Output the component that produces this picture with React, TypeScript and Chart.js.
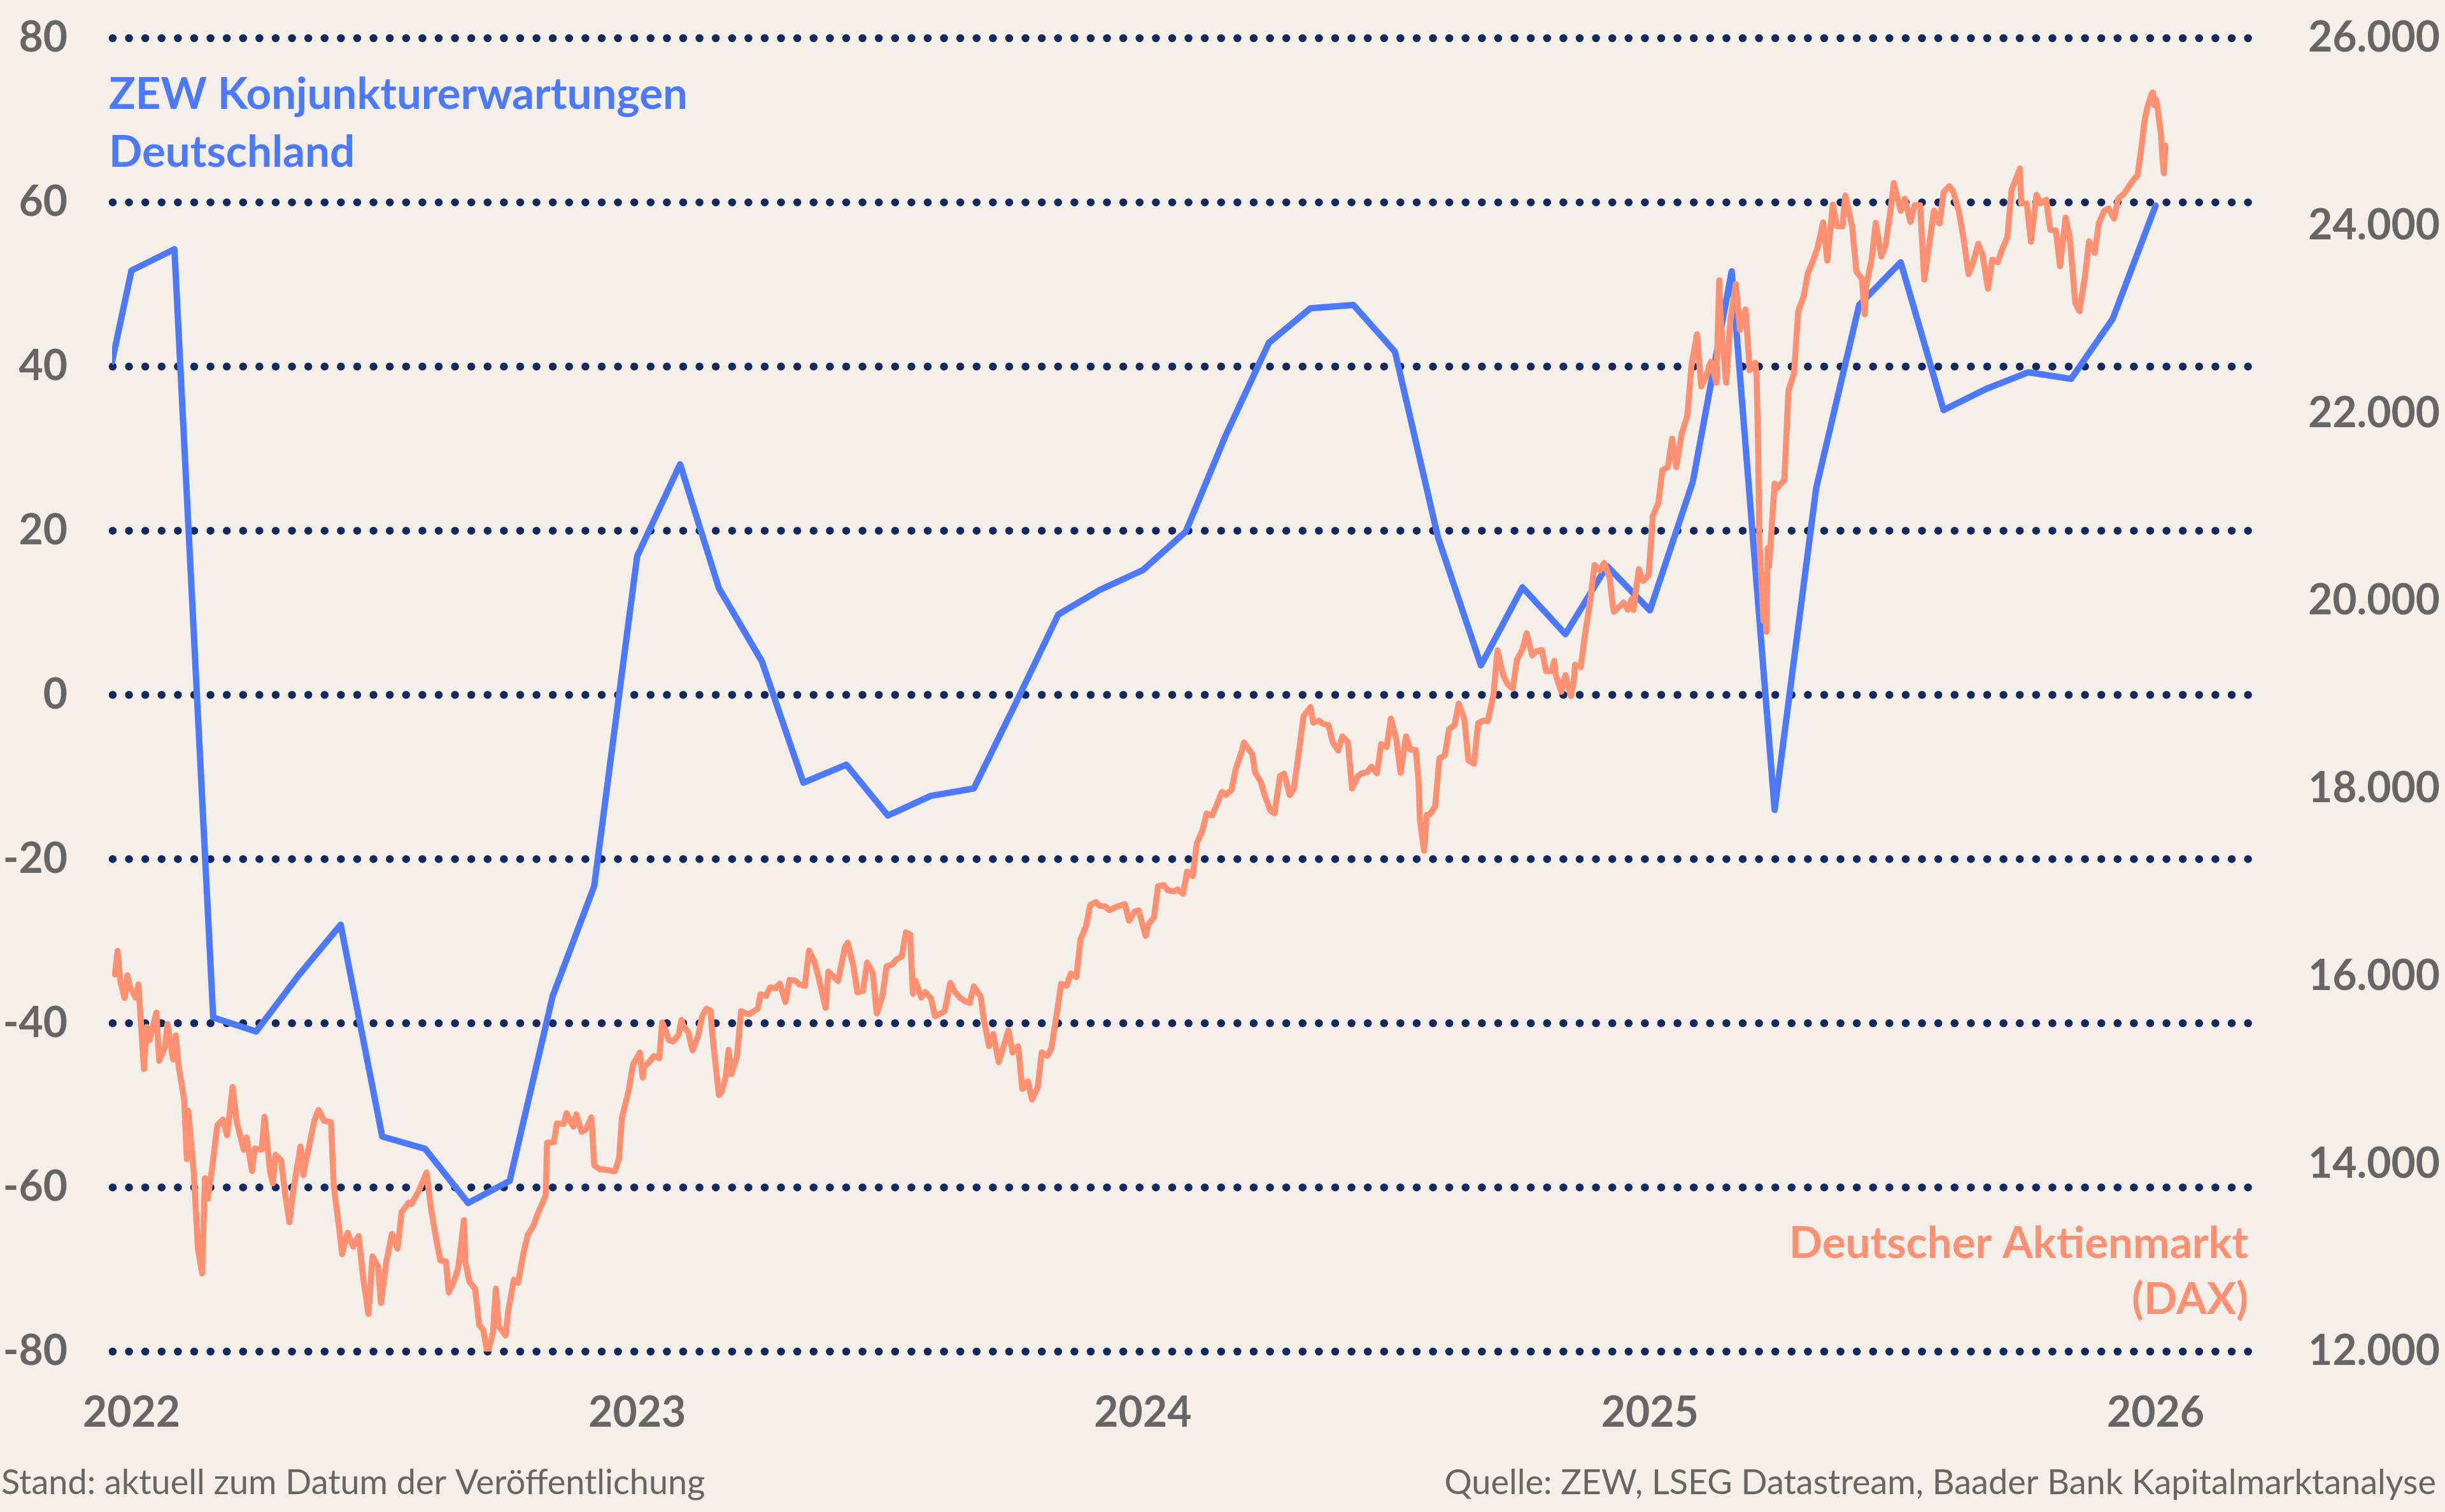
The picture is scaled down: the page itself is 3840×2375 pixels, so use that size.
import React, { useEffect, useRef } from "react";
import { Chart, registerables } from "chart.js";

Chart.register(...registerables);

// ---------- DATA ----------
// ZEW Konjunkturerwartungen Deutschland (Saldo), monthly, plotted mid-month
const ZEW_START = { date: "2022-01-01", value: 40.6 };
const ZEW_MONTHS = [
  "2022-01", "2022-02", "2022-03", "2022-04", "2022-05", "2022-06",
  "2022-07", "2022-08", "2022-09", "2022-10", "2022-11", "2022-12",
  "2023-01", "2023-02", "2023-03", "2023-04", "2023-05", "2023-06",
  "2023-07", "2023-08", "2023-09", "2023-10", "2023-11", "2023-12",
  "2024-01", "2024-02", "2024-03", "2024-04", "2024-05", "2024-06",
  "2024-07", "2024-08", "2024-09", "2024-10", "2024-11", "2024-12",
  "2025-01", "2025-02", "2025-03", "2025-04", "2025-05", "2025-06",
  "2025-07", "2025-08", "2025-09", "2025-10", "2025-11", "2025-12",
  "2026-01",
];
const ZEW_VALUES = [
  51.7, 54.3, -39.3, -41.0, -34.3, -28.0, -53.8, -55.3, -61.9, -59.2, -36.7, -23.3,
  16.9, 28.1, 13.0, 4.1, -10.7, -8.5, -14.7, -12.3, -11.4, -1.1, 9.8, 12.8,
  15.2, 19.9, 31.7, 42.9, 47.1, 47.5, 41.8, 19.2, 3.6, 13.1, 7.4, 15.7,
  10.3, 26.0, 51.6, -14.0, 25.2, 47.5, 52.7, 34.7, 37.3, 39.3, 38.5, 45.8,
  59.6,
];

// DAX (Punkte)
const DAX_2022: [string, number][] = [
  ["2022-01-03", 16020], ["2022-01-05", 16271], ["2022-01-07", 15948], ["2022-01-10", 15768], ["2022-01-12", 16010],
  ["2022-01-14", 15883], ["2022-01-18", 15773], ["2022-01-20", 15912], ["2022-01-24", 15011], ["2022-01-26", 15460],
  ["2022-01-28", 15318], ["2022-02-02", 15613], ["2022-02-04", 15100], ["2022-02-08", 15242], ["2022-02-10", 15490],
  ["2022-02-14", 15114], ["2022-02-16", 15370], ["2022-02-18", 15042], ["2022-02-22", 14693], ["2022-02-24", 14052],
  ["2022-02-25", 14567], ["2022-03-01", 13905], ["2022-03-04", 13094], ["2022-03-07", 12832], ["2022-03-09", 13847],
  ["2022-03-11", 13628], ["2022-03-14", 13929], ["2022-03-18", 14413], ["2022-03-22", 14473], ["2022-03-25", 14306],
  ["2022-03-29", 14820], ["2022-04-01", 14446], ["2022-04-06", 14152], ["2022-04-08", 14283], ["2022-04-12", 13925],
  ["2022-04-14", 14164], ["2022-04-19", 14153], ["2022-04-21", 14502], ["2022-04-25", 13924], ["2022-04-27", 13794],
  ["2022-04-29", 14098], ["2022-05-03", 14039], ["2022-05-06", 13674], ["2022-05-09", 13381], ["2022-05-12", 13739],
  ["2022-05-17", 14186], ["2022-05-19", 13882], ["2022-05-23", 14175], ["2022-05-27", 14462], ["2022-05-30", 14576],
  ["2022-06-03", 14460], ["2022-06-08", 14446], ["2022-06-10", 13762], ["2022-06-14", 13304], ["2022-06-16", 13038],
  ["2022-06-20", 13266], ["2022-06-24", 13118], ["2022-06-28", 13232], ["2022-07-01", 12813], ["2022-07-05", 12401],
  ["2022-07-08", 13015], ["2022-07-12", 12905], ["2022-07-14", 12519], ["2022-07-18", 12959], ["2022-07-22", 13254],
  ["2022-07-26", 13097], ["2022-07-29", 13484], ["2022-08-03", 13587], ["2022-08-05", 13573], ["2022-08-10", 13700],
  ["2022-08-16", 13910], ["2022-08-19", 13544], ["2022-08-23", 13195], ["2022-08-26", 12971], ["2022-08-30", 12961],
  ["2022-09-01", 12630], ["2022-09-05", 12761], ["2022-09-08", 12904], ["2022-09-12", 13402], ["2022-09-13", 12956],
  ["2022-09-16", 12741], ["2022-09-20", 12671], ["2022-09-23", 12284], ["2022-09-26", 12227], ["2022-09-29", 11976],
  ["2022-10-03", 12209], ["2022-10-05", 12671], ["2022-10-07", 12273], ["2022-10-12", 12172], ["2022-10-14", 12438],
  ["2022-10-18", 12765], ["2022-10-21", 12731], ["2022-10-25", 13052], ["2022-10-28", 13243], ["2022-11-01", 13338],
  ["2022-11-04", 13460], ["2022-11-10", 13666], ["2022-11-11", 14224], ["2022-11-16", 14234], ["2022-11-18", 14431],
  ["2022-11-23", 14428], ["2022-11-25", 14541], ["2022-11-30", 14397], ["2022-12-02", 14529], ["2022-12-06", 14343],
  ["2022-12-09", 14370], ["2022-12-13", 14497], ["2022-12-15", 13987], ["2022-12-19", 13943], ["2022-12-23", 13940],
  ["2022-12-28", 13925], ["2022-12-30", 13924],
];
const DAX_2023: [string, number][] = [
  ["2023-01-02", 14069], ["2023-01-04", 14490], ["2023-01-06", 14610], ["2023-01-09", 14792], ["2023-01-12", 15058],
  ["2023-01-13", 15086], ["2023-01-17", 15187], ["2023-01-19", 14920], ["2023-01-20", 15033], ["2023-01-24", 15094],
  ["2023-01-27", 15150], ["2023-01-31", 15128], ["2023-02-02", 15509], ["2023-02-03", 15476], ["2023-02-07", 15321],
  ["2023-02-10", 15307], ["2023-02-14", 15380], ["2023-02-16", 15534], ["2023-02-17", 15482], ["2023-02-21", 15398],
  ["2023-02-24", 15210], ["2023-02-28", 15365], ["2023-03-03", 15578], ["2023-03-06", 15654], ["2023-03-09", 15634],
  ["2023-03-10", 15428], ["2023-03-13", 15000], ["2023-03-15", 14735], ["2023-03-17", 14768], ["2023-03-20", 14933],
  ["2023-03-22", 15217], ["2023-03-24", 14957], ["2023-03-28", 15142], ["2023-03-31", 15629], ["2023-04-04", 15603],
  ["2023-04-06", 15598], ["2023-04-12", 15655], ["2023-04-14", 15808], ["2023-04-18", 15790], ["2023-04-21", 15882],
  ["2023-04-25", 15872], ["2023-04-28", 15922], ["2023-05-02", 15727], ["2023-05-05", 15961], ["2023-05-09", 15955],
  ["2023-05-12", 15914], ["2023-05-16", 15898], ["2023-05-19", 16275], ["2023-05-23", 16152], ["2023-05-26", 15984],
  ["2023-05-31", 15664], ["2023-06-02", 16051], ["2023-06-06", 15993], ["2023-06-09", 15950], ["2023-06-14", 16311],
  ["2023-06-16", 16358], ["2023-06-20", 16111], ["2023-06-23", 15830], ["2023-06-27", 15846], ["2023-06-30", 16148],
  ["2023-07-04", 16038], ["2023-07-07", 15603], ["2023-07-11", 15790], ["2023-07-14", 16105], ["2023-07-18", 16126],
  ["2023-07-21", 16177], ["2023-07-25", 16211], ["2023-07-28", 16469], ["2023-07-31", 16447], ["2023-08-02", 15815],
  ["2023-08-04", 15952], ["2023-08-08", 15775], ["2023-08-11", 15832], ["2023-08-15", 15767], ["2023-08-18", 15574],
  ["2023-08-22", 15603], ["2023-08-25", 15632], ["2023-08-29", 15930], ["2023-09-01", 15840], ["2023-09-05", 15772],
  ["2023-09-08", 15740], ["2023-09-12", 15715], ["2023-09-15", 15893], ["2023-09-20", 15782], ["2023-09-22", 15557],
  ["2023-09-26", 15256], ["2023-09-29", 15387], ["2023-10-03", 15085], ["2023-10-06", 15229], ["2023-10-10", 15424],
  ["2023-10-13", 15187], ["2023-10-17", 15252], ["2023-10-20", 14798], ["2023-10-24", 14880], ["2023-10-27", 14687],
  ["2023-10-31", 14810], ["2023-11-03", 15189], ["2023-11-07", 15153], ["2023-11-10", 15234], ["2023-11-14", 15615],
  ["2023-11-17", 15919], ["2023-11-21", 15901], ["2023-11-24", 16029], ["2023-11-28", 15992], ["2023-12-01", 16397],
  ["2023-12-05", 16533], ["2023-12-08", 16759], ["2023-12-12", 16791], ["2023-12-15", 16751], ["2023-12-19", 16744],
  ["2023-12-22", 16706], ["2023-12-27", 16742], ["2023-12-29", 16752],
];
const DAX_2024: [string, number][] = [
  ["2024-01-02", 16769], ["2024-01-05", 16594], ["2024-01-09", 16689], ["2024-01-12", 16705], ["2024-01-17", 16432],
  ["2024-01-19", 16555], ["2024-01-23", 16627], ["2024-01-26", 16961], ["2024-01-30", 16972], ["2024-02-02", 16918],
  ["2024-02-06", 16905], ["2024-02-09", 16926], ["2024-02-13", 16880], ["2024-02-16", 17117], ["2024-02-20", 17068],
  ["2024-02-23", 17419], ["2024-02-27", 17556], ["2024-03-01", 17735], ["2024-03-05", 17716], ["2024-03-08", 17815],
  ["2024-03-12", 17965], ["2024-03-15", 17936], ["2024-03-19", 17987], ["2024-03-22", 18206], ["2024-03-26", 18384],
  ["2024-03-28", 18492], ["2024-04-03", 18367], ["2024-04-05", 18175], ["2024-04-09", 18076], ["2024-04-12", 17930],
  ["2024-04-16", 17766], ["2024-04-19", 17737], ["2024-04-23", 18137], ["2024-04-26", 18161], ["2024-04-30", 17932],
  ["2024-05-03", 18001], ["2024-05-07", 18430], ["2024-05-10", 18773], ["2024-05-15", 18869], ["2024-05-17", 18704],
  ["2024-05-21", 18726], ["2024-05-24", 18693], ["2024-05-28", 18677], ["2024-05-31", 18498], ["2024-06-04", 18406],
  ["2024-06-07", 18557], ["2024-06-11", 18494], ["2024-06-14", 18002], ["2024-06-18", 18131], ["2024-06-21", 18164],
  ["2024-06-25", 18177], ["2024-06-28", 18235], ["2024-07-02", 18164], ["2024-07-05", 18475], ["2024-07-09", 18445],
  ["2024-07-12", 18748], ["2024-07-16", 18518], ["2024-07-19", 18171], ["2024-07-23", 18558], ["2024-07-26", 18418],
  ["2024-07-30", 18411], ["2024-08-01", 18083], ["2024-08-02", 17661], ["2024-08-05", 17339], ["2024-08-07", 17722],
  ["2024-08-09", 17723], ["2024-08-13", 17812], ["2024-08-16", 18322], ["2024-08-20", 18357], ["2024-08-23", 18633],
  ["2024-08-27", 18681], ["2024-08-30", 18906], ["2024-09-03", 18747], ["2024-09-06", 18302], ["2024-09-10", 18266],
  ["2024-09-13", 18699], ["2024-09-17", 18726], ["2024-09-20", 18720], ["2024-09-24", 18997], ["2024-09-27", 19474],
  ["2024-10-01", 19213], ["2024-10-04", 19121], ["2024-10-08", 19066], ["2024-10-11", 19373], ["2024-10-15", 19486],
  ["2024-10-18", 19657], ["2024-10-22", 19421], ["2024-10-25", 19464], ["2024-10-29", 19479], ["2024-11-01", 19255],
  ["2024-11-05", 19256], ["2024-11-07", 19362], ["2024-11-08", 19215], ["2024-11-12", 19033], ["2024-11-15", 19211],
  ["2024-11-19", 18988], ["2024-11-21", 19146], ["2024-11-22", 19323], ["2024-11-26", 19295], ["2024-11-29", 19626],
  ["2024-12-03", 20016], ["2024-12-06", 20385], ["2024-12-10", 20329], ["2024-12-13", 20406], ["2024-12-17", 20247],
  ["2024-12-19", 19970], ["2024-12-20", 19885], ["2024-12-27", 19985], ["2024-12-30", 19909],
];
const DAX_2025: [string, number][] = [
  ["2025-01-02", 20025], ["2025-01-03", 19906], ["2025-01-07", 20340], ["2025-01-10", 20215], ["2025-01-14", 20271],
  ["2025-01-16", 20655], ["2025-01-17", 20903], ["2025-01-21", 21042], ["2025-01-24", 21395], ["2025-01-28", 21430],
  ["2025-01-31", 21732], ["2025-02-03", 21428], ["2025-02-07", 21787], ["2025-02-11", 21979], ["2025-02-14", 22513],
  ["2025-02-18", 22845], ["2025-02-21", 22287], ["2025-02-25", 22410], ["2025-02-28", 22551], ["2025-03-04", 22327],
  ["2025-03-06", 23419], ["2025-03-07", 23009], ["2025-03-11", 22328], ["2025-03-14", 22987], ["2025-03-18", 23380],
  ["2025-03-21", 22892], ["2025-03-25", 23109], ["2025-03-28", 22461], ["2025-04-01", 22540], ["2025-04-02", 22390],
  ["2025-04-03", 21717], ["2025-04-04", 20642], ["2025-04-07", 19790], ["2025-04-08", 20280], ["2025-04-09", 19671],
  ["2025-04-10", 20563], ["2025-04-11", 20374], ["2025-04-15", 21253], ["2025-04-17", 21206], ["2025-04-22", 21294],
  ["2025-04-25", 22242], ["2025-04-29", 22426], ["2025-05-02", 23087], ["2025-05-06", 23249], ["2025-05-09", 23499],
  ["2025-05-13", 23638], ["2025-05-16", 23767], ["2025-05-20", 24036], ["2025-05-23", 23630], ["2025-05-27", 24226],
  ["2025-05-30", 23997], ["2025-06-03", 23994], ["2025-06-05", 24323], ["2025-06-10", 23988], ["2025-06-13", 23516],
  ["2025-06-17", 23435], ["2025-06-19", 23057], ["2025-06-20", 23350], ["2025-06-24", 23641], ["2025-06-27", 24033],
  ["2025-07-01", 23673], ["2025-07-04", 23788], ["2025-07-08", 24207], ["2025-07-10", 24456], ["2025-07-15", 24160],
  ["2025-07-18", 24290], ["2025-07-22", 24042], ["2025-07-25", 24218], ["2025-07-29", 24218], ["2025-08-01", 23426],
  ["2025-08-05", 23846], ["2025-08-08", 24163], ["2025-08-12", 24024], ["2025-08-15", 24359], ["2025-08-19", 24423],
  ["2025-08-22", 24363], ["2025-08-26", 24152], ["2025-08-29", 23902], ["2025-09-02", 23487], ["2025-09-05", 23597],
  ["2025-09-09", 23808], ["2025-09-12", 23698], ["2025-09-16", 23329], ["2025-09-19", 23639], ["2025-09-23", 23611],
  ["2025-09-26", 23739], ["2025-09-30", 23881], ["2025-10-03", 24379], ["2025-10-09", 24611], ["2025-10-10", 24241],
  ["2025-10-14", 24237], ["2025-10-17", 23831], ["2025-10-21", 24330], ["2025-10-24", 24240], ["2025-10-28", 24278],
  ["2025-10-31", 23958], ["2025-11-04", 23949], ["2025-11-07", 23569], ["2025-11-11", 24088], ["2025-11-14", 23877],
  ["2025-11-18", 23180], ["2025-11-21", 23091], ["2025-11-25", 23464], ["2025-11-28", 23836], ["2025-12-02", 23711],
  ["2025-12-05", 24028], ["2025-12-09", 24162], ["2025-12-12", 24186], ["2025-12-16", 24077], ["2025-12-19", 24288],
  ["2025-12-23", 24340], ["2025-12-30", 24490],
];
const DAX_2026: [string, number][] = [
  ["2026-01-02", 24539], ["2026-01-05", 24868], ["2026-01-07", 25122], ["2026-01-09", 25261], ["2026-01-12", 25405],
  ["2026-01-13", 25421], ["2026-01-14", 25286], ["2026-01-15", 25352], ["2026-01-16", 25297], ["2026-01-19", 24959],
  ["2026-01-20", 24703], ["2026-01-21", 24560], ["2026-01-22", 24856],
];

// Axis ticks
const YEAR_TICK_DATES = ["2022-01-15", "2023-01-15", "2024-01-15", "2025-01-15", "2026-01-15"];
const YEAR_TICK_LABELS = ["2022", "2023", "2024", "2025", "2026"];
const ZEW_AXIS = { min: -80, max: 80, step: 20 };
const DAX_AXIS = { min: 12000, max: 26000, step: 2000 };
const X_RANGE = { start: "2022-01-01", end: "2026-03-27" };

// Texts
const ZEW_LABEL = ["ZEW Konjunkturerwartungen", "Deutschland"];
const DAX_LABEL = ["Deutscher Aktienmarkt", "(DAX)"];
const FOOT_LEFT = "Stand: aktuell zum Datum der Veröffentlichung";
const FOOT_RIGHT = "Quelle: ZEW, LSEG Datastream, Baader Bank Kapitalmarktanalyse";

// ---------- STYLE ----------
const W = 3840;
const H = 2375;
const PLOT = { top: 60, bottom: 2123, left: 176, right: 3540 };
const BG = "#F5EFE9";
const BLUE = "#4D79FF";
const ORANGE = "#FF9072";
const GRID = "#132A5E";
const TICK = "#666666";
const FONT = "Lato, 'Open Sans', 'DejaVu Sans', sans-serif";

const START = Date.UTC(2022, 0, 1);
const dayIndex = (s: string) => {
  const [y, m, d] = s.split("-").map(Number);
  return Math.round((Date.UTC(y, m - 1, d) - START) / 86400000);
};
const fmtThousands = (v: number) => {
  const k = Math.round(v / 1000);
  return `${k}.000`;
};

const bgPlugin = {
  id: "bgPlugin",
  beforeDraw(chart: any) {
    const { ctx } = chart;
    ctx.save();
    ctx.fillStyle = BG;
    ctx.fillRect(0, 0, chart.width, chart.height);
    ctx.restore();
  },
};

const dottedGrid = {
  id: "dottedGrid",
  beforeDatasetsDraw(chart: any) {
    const { ctx, chartArea, scales } = chart;
    const y = scales.y;
    ctx.save();
    ctx.strokeStyle = GRID;
    ctx.lineWidth = 12.5;
    ctx.lineCap = "round";
    ctx.setLineDash([0, 25.6]);
    y.ticks.forEach((t: any) => {
      const py = y.getPixelForValue(t.value);
      ctx.beginPath();
      ctx.moveTo(chartArea.left + 1, py);
      ctx.lineTo(chartArea.right, py);
      ctx.stroke();
    });
    ctx.restore();
  },
};

const textPlugin = {
  id: "textPlugin",
  afterDraw(chart: any) {
    const { ctx } = chart;
    ctx.save();
    ctx.textBaseline = "alphabetic";
    ctx.font = `bold 69px ${FONT}`;
    ctx.fillStyle = BLUE;
    ctx.textAlign = "left";
    ctx.fillText(ZEW_LABEL[0], 171, 171);
    ctx.fillText(ZEW_LABEL[1], 171, 262);
    ctx.fillStyle = ORANGE;
    ctx.textAlign = "right";
    ctx.fillText(DAX_LABEL[0], 3531, 1976);
    ctx.fillText(DAX_LABEL[1], 3531, 2064);
    ctx.font = `54px ${FONT}`;
    ctx.fillStyle = TICK;
    ctx.textAlign = "left";
    ctx.fillText(FOOT_LEFT, 2, 2347);
    ctx.textAlign = "right";
    ctx.fillText(FOOT_RIGHT, 3826, 2347);
    ctx.restore();
  },
};

const noVPad = (s: any) => {
  s.paddingTop = 0;
  s.paddingBottom = 0;
};

export default function App() {
  const ref = useRef<HTMLCanvasElement | null>(null);

  useEffect(() => {
    document.body.style.margin = "0";
    document.body.style.background = BG;
    const canvas = ref.current;
    if (!canvas) return;

    const zewPoints = [
      { x: dayIndex(ZEW_START.date), y: ZEW_START.value },
      ...ZEW_MONTHS.map((m, i) => ({ x: dayIndex(`${m}-15`), y: ZEW_VALUES[i] })),
    ];
    const daxPoints = [...DAX_2022, ...DAX_2023, ...DAX_2024, ...DAX_2025, ...DAX_2026].map(([d, v]) => ({
      x: dayIndex(d),
      y: v,
    }));

    const tickFont = { family: FONT, size: 66, weight: "bold" as const };

    const chart = new Chart(canvas, {
      type: "line",
      data: {
        datasets: [
          {
            label: "DAX",
            data: daxPoints,
            yAxisID: "y1",
            borderColor: ORANGE,
            borderWidth: 9.5,
            pointRadius: 0,
            tension: 0,
            borderJoinStyle: "round",
            borderCapStyle: "round",
          },
          {
            label: "ZEW",
            data: zewPoints,
            yAxisID: "y",
            borderColor: BLUE,
            borderWidth: 10,
            pointRadius: 0,
            tension: 0,
            borderJoinStyle: "round",
            borderCapStyle: "round",
          },
        ],
      },
      options: {
        responsive: false,
        animation: false,
        devicePixelRatio: 1,
        events: [],
        layout: { padding: { top: PLOT.top, left: 0, right: 0, bottom: 0 } },
        plugins: { legend: { display: false }, tooltip: { enabled: false } },
        scales: {
          x: {
            type: "linear",
            min: dayIndex(X_RANGE.start),
            max: dayIndex(X_RANGE.end),
            grid: { display: false, drawTicks: false },
            border: { display: false },
            afterBuildTicks: (s: any) => {
              s.ticks = YEAR_TICK_DATES.map((d) => ({ value: dayIndex(d) }));
            },
            afterFit: (s: any) => {
              s.height = H - PLOT.bottom;
              s.paddingLeft = 0;
              s.paddingRight = 0;
            },
            ticks: {
              autoSkip: false,
              maxRotation: 0,
              padding: 57,
              color: TICK,
              font: tickFont,
              callback: (_v: any, i: number) => YEAR_TICK_LABELS[i],
            },
          },
          y: {
            position: "left",
            min: ZEW_AXIS.min,
            max: ZEW_AXIS.max,
            grid: { display: false, drawTicks: false },
            border: { display: false },
            afterFit: (s: any) => {
              s.width = PLOT.left;
              noVPad(s);
            },
            ticks: {
              stepSize: ZEW_AXIS.step,
              padding: 70,
              color: TICK,
              font: tickFont,
              callback: (v: any) => String(v),
            },
          },
          y1: {
            position: "right",
            min: DAX_AXIS.min,
            max: DAX_AXIS.max,
            grid: { display: false, drawTicks: false },
            border: { display: false },
            afterFit: (s: any) => {
              s.width = W - PLOT.right;
              noVPad(s);
            },
            ticks: {
              stepSize: DAX_AXIS.step,
              padding: 85,
              color: TICK,
              font: tickFont,
              callback: (v: any) => fmtThousands(Number(v)),
            },
          },
        },
      },
      plugins: [bgPlugin, dottedGrid, textPlugin],
    } as any);

    return () => chart.destroy();
  }, []);

  return (
    <div style={{ width: W, height: H, background: BG }}>
      <canvas ref={ref} width={W} height={H} style={{ display: "block", width: W, height: H }} />
    </div>
  );
}
